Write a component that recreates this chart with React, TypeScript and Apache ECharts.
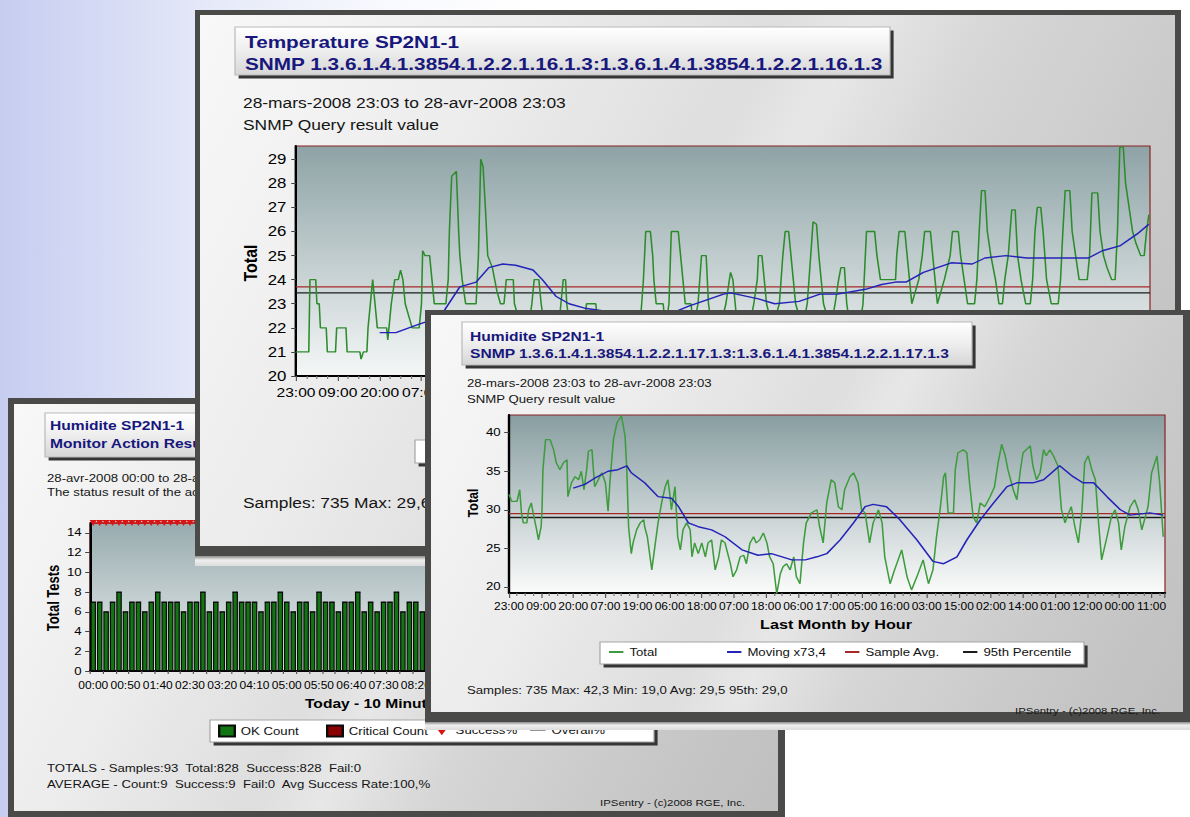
import React, { useEffect, useRef } from "react";
import * as echarts from "echarts";

const SX = 1.2;
const FONT = '"Liberation Sans", Arial, Helvetica, sans-serif';
const NAVY = "#17177c";

// ---------- shared hour ticks (one label every 36 hourly samples)
const hourTicks = ["23:00", "09:00", "20:00", "07:00", "19:00", "06:00", "18:00", "07:00", "18:00", "06:00", "17:00", "05:00", "16:00", "03:00", "15:00", "02:00", "14:00", "01:00", "12:00", "00:00", "11:00"];
const HOUR_STEP = 36;
const SAMPLE_COUNT = 735;
const lineLegend = ["Total", "Moving x73,4", "Sample Avg.", "95th Percentile"];

// ---------- Temperature SP2N1-1  [sample index, value]
const tempTotal = [
  [0, 21], [11, 21], [12, 24], [17, 24], [18, 23], [20, 23], [21, 22], [26, 22], [27, 21], [34, 21], [35, 22], [43, 22], [44, 21], [55, 21], [56, 20.7], [58, 21], [61, 21], [62, 22], [64, 23], [66, 24], [67, 23.5], [68, 23], [70, 22], [78, 22], [79, 21.5], [80, 22], [82, 23], [85, 24], [88, 24], [90, 24.4], [92, 24], [94, 23], [97, 22.5], [100, 22], [106, 22], [108, 23], [109, 25.2], [111, 25], [115, 25], [117, 24], [119, 23], [129, 23], [131, 24], [132, 26], [134, 28.3], [138, 28.5], [140, 26], [141, 25], [143, 24], [146, 23], [155, 23], [157, 25], [159, 29], [161, 28.7], [163, 27], [165, 25], [169, 24.5], [171, 24], [173, 23.5], [176, 23], [179, 23], [181, 24], [187, 24], [188, 23], [191, 22.5], [195, 22], [200, 22], [203, 23], [205, 24], [209, 24], [211, 23], [214, 22], [226, 22], [228, 23], [230, 24], [232, 24], [233, 23], [236, 22], [248, 22], [250, 23], [258, 23], [260, 22], [270, 21], [280, 21], [290, 22], [296, 22], [299, 24], [301, 26], [305, 26], [307, 25], [308, 24], [310, 23], [316, 23], [318, 22], [321, 23], [323, 26], [329, 26], [331, 25], [333, 24], [335, 23], [340, 23], [342, 22], [346, 23], [349, 25], [353, 25], [355, 23], [358, 22], [365, 22], [370, 23], [373, 24], [374, 24.3], [376, 24], [378, 23], [380, 22], [390, 22], [394, 23], [397, 24], [398, 25], [401, 25], [403, 24], [405, 23], [410, 22], [416, 23], [419, 25], [421, 26], [424, 26], [426, 25], [428, 24], [430, 23], [436, 22], [440, 23], [443, 25], [445, 26.4], [448, 26.3], [450, 25], [452, 24], [454, 23], [460, 22], [464, 23], [467, 24], [469, 24.5], [472, 24.5], [474, 23], [477, 22], [485, 22], [488, 23], [491, 26], [498, 26], [500, 25], [503, 24], [516, 24], [517, 25], [519, 26], [524, 26], [526, 25], [528, 24], [530, 23], [536, 24], [539, 25], [541, 26], [546, 26], [548, 25], [550, 24], [552, 23], [558, 24], [563, 25], [565, 26], [570, 26], [572, 25], [575, 24], [578, 23], [584, 23], [586, 24], [588, 26], [590, 27.7], [593, 27.7], [595, 26], [598, 25], [602, 24], [605, 23], [608, 23], [610, 24], [613, 25], [616, 26.9], [619, 26.9], [621, 25], [624, 24], [628, 23], [632, 23], [634, 24], [636, 26], [638, 27], [641, 27], [643, 26], [646, 24], [650, 23], [656, 23], [658, 24], [660, 26], [662, 27.7], [666, 27.7], [668, 26], [671, 25], [674, 24], [681, 24], [683, 25], [685, 27.6], [690, 27.6], [692, 26], [695, 25], [698, 24.5], [702, 24], [705, 24], [707, 26], [709, 29.5], [712, 29.5], [714, 28], [717, 27], [720, 26], [723, 25.5], [727, 25], [730, 25], [732, 26], [734, 26.7],
];
const tempMoving = [
  [72, 21.8], [86, 21.8], [103, 22.1], [115, 22.3], [126, 22.6], [141, 23.7], [155, 23.9], [166, 24.5], [178, 24.65], [189, 24.6], [204, 24.4], [212, 24.0], [224, 23.3], [235, 23.0], [250, 22.8], [280, 22.6], [300, 22.5], [323, 22.6], [338, 22.9], [368, 23.4], [374, 23.45], [398, 23.2], [412, 23.0], [433, 23.1], [451, 23.4], [466, 23.4], [490, 23.6], [504, 23.8], [516, 23.9], [525, 23.9], [540, 24.3], [564, 24.7], [582, 24.65], [593, 24.9], [611, 25.0], [629, 24.9], [650, 24.9], [682, 24.9], [694, 25.2], [709, 25.4], [724, 25.9], [734, 26.3],
];
const tempAvg = 23.7;
const tempP95 = 23.45;
const tempTicks = [20, 21, 22, 23, 24, 25, 26, 27, 28, 29];
const tempVisibleHourTicks = hourTicks.slice(0, 4); // the rest is hidden behind the front window

// ---------- Humidite SP2N1-1  [sample index, value]
const humTotal = [
  [0, 32], [3, 31.1], [9, 31.1], [12, 32.6], [14, 29.6], [16, 28.3], [20, 28.3], [22, 30], [25, 30.9], [27, 29.6], [31, 27.4], [33, 26.1], [36, 27.8], [37, 30], [38, 35.2], [41, 39.1], [46, 39.1], [50, 37.8], [53, 36.1], [57, 35.2], [61, 36.1], [65, 36.5], [66, 31.7], [70, 33.5], [74, 34.3], [78, 33.9], [81, 35], [84, 32.6], [87, 35.2], [89, 37.6], [93, 37.8], [94, 36.1], [96, 33], [100, 33.9], [104, 34.8], [108, 33.5], [111, 29.8], [113, 33.5], [117, 39.1], [121, 41.3], [126, 42.2], [130, 39.6], [132, 35.2], [134, 27.8], [137, 24.3], [139, 25.7], [143, 27.4], [147, 28.3], [151, 28.7], [152, 27.8], [155, 26.5], [160, 22.2], [164, 25.7], [167, 28.3], [171, 30.9], [175, 33], [178, 33.9], [180, 32.2], [182, 30], [186, 33], [189, 26.5], [192, 24.8], [195, 27.4], [199, 28.3], [203, 27.4], [205, 23.9], [208, 25.7], [212, 24.3], [216, 25.7], [220, 23.9], [223, 25.7], [227, 26.1], [231, 22.2], [235, 23.9], [238, 26.1], [242, 25.7], [248, 23], [251, 21.3], [255, 22.2], [259, 23.9], [263, 24.1], [266, 23], [270, 25.7], [274, 26.5], [277, 25.7], [281, 26.1], [285, 27], [289, 25.7], [292, 23.9], [296, 23], [300, 19.1], [304, 21.7], [307, 22.6], [311, 23], [315, 22.2], [319, 23.9], [322, 21.3], [326, 20.4], [330, 25.7], [333, 28.3], [339, 29.6], [345, 30], [348, 27.8], [352, 25.7], [356, 30.9], [361, 33.9], [365, 33.5], [369, 30.4], [373, 30], [376, 32.6], [382, 34.3], [386, 34.8], [391, 33.5], [395, 30], [399, 29.6], [404, 25.7], [408, 28.3], [414, 30], [418, 28.3], [421, 23.9], [427, 20.4], [432, 22.2], [440, 24.8], [446, 21.3], [451, 19.6], [457, 21.3], [464, 23.5], [470, 20.4], [475, 22.2], [479, 26.5], [483, 30], [487, 34.3], [489, 34.8], [492, 29.6], [498, 29.6], [500, 35.2], [503, 37.4], [509, 37.8], [513, 37.4], [516, 33.5], [520, 29.1], [524, 28.3], [528, 30.9], [533, 30.4], [539, 31.7], [544, 33], [548, 36.1], [552, 38.5], [556, 37], [559, 35.2], [565, 32.6], [569, 31.3], [573, 35.2], [576, 37.4], [584, 38.3], [587, 35.7], [591, 33.9], [595, 34.8], [599, 37.8], [602, 37], [606, 37.8], [610, 37], [615, 35.7], [619, 30], [623, 28.3], [627, 29.6], [630, 30.4], [634, 27.8], [638, 25.7], [642, 30], [645, 36.1], [649, 37], [653, 35.2], [657, 33.9], [660, 29.1], [664, 23.5], [670, 26.5], [675, 29.1], [679, 30], [683, 28.3], [686, 24.8], [690, 27.8], [696, 30.4], [701, 31.3], [705, 30], [709, 27.4], [713, 29.1], [716, 30.4], [720, 34.8], [726, 37], [729, 33.5], [733, 26.5],
];
const humMoving = [
  [72, 32.8], [85, 33.3], [96, 34.1], [111, 35], [122, 35.2], [132, 35.7], [137, 34.8], [152, 33.5], [167, 31.7], [182, 31.5], [190, 30.4], [201, 28.3], [212, 27.8], [227, 27.4], [242, 26.5], [261, 24.8], [279, 24.1], [294, 24.3], [317, 23.5], [332, 23.5], [345, 23.9], [356, 24.3], [371, 26.1], [386, 28.3], [399, 30.4], [408, 30.7], [423, 30.4], [438, 28.7], [457, 26.1], [475, 23.3], [487, 23], [502, 23.9], [513, 26.1], [528, 28.7], [543, 30.9], [558, 33], [569, 33.5], [587, 33.5], [599, 33.9], [617, 35.7], [632, 34.3], [643, 33.5], [655, 33.5], [670, 31.7], [685, 30], [696, 29.3], [718, 29.6], [733, 29.3],
];
const humAvg = 29.5;
const humP95 = 29.0;
const humTicks = [20, 25, 30, 35, 40];

// ---------- Monitor action results (10 minute intervals)
const barTickLabels = ["00:00", "00:50", "01:40", "02:30", "03:20", "04:10", "05:00", "05:50", "06:40", "07:30", "08:20"]; // later labels hidden behind the front window
const okCounts = [
  7, 7, 6, 7, 8, 6, 7, 7, 6, 7, 8, 7, 7, 7, 6, 7, 7, 8, 6, 7, 6, 7, 8, 7, 7, 7, 6, 7, 7, 8, 7, 6, 7, 7, 6, 8, 7, 7, 6, 7, 7, 8, 6, 7, 6, 7, 7, 8, 6, 7, 7, 6,
  7, 7, 8, 6, 7, 7, 6, 7, 8, 7, 7, 6, 7, 7, 8, 6, 7, 7, 7, 6, 8, 7, 7, 6, 7, 7, 8, 6, 7, 7, 6, 7, 8, 7, 6, 7, 7, 8, 6, 7, 7,
];
const criticalCounts = [
  0, 0, 0, 0, 0, 0, 0, 0, 0, 0, 0, 0, 0, 0, 0, 0, 0, 0, 0, 0, 0, 0, 0, 0, 0, 0, 0, 0, 0, 0, 0, 0, 0, 0, 0, 0, 0, 0, 0, 0, 0, 0, 0, 0, 0, 0, 0, 0, 0, 0,
  0, 0, 0, 0, 0, 0, 0, 0, 0, 0, 0, 0, 0, 0, 0, 0, 0, 0, 0, 0, 0, 0, 0, 0, 0, 0, 0, 0, 0, 0, 0, 0, 0, 0, 0, 0, 0, 0, 0, 0, 0, 0, 0,
];
const successPct = [
  100, 100, 100, 100, 100, 100, 100, 100, 100, 100, 100, 100, 100, 100, 100, 100, 100, 100, 100, 100, 100, 100, 100, 100, 100, 100, 100, 100, 100, 100, 100,
  100, 100, 100, 100, 100, 100, 100, 100, 100, 100, 100, 100, 100, 100, 100, 100, 100, 100, 100, 100, 100, 100, 100, 100, 100, 100, 100, 100, 100, 100, 100,
  100, 100, 100, 100, 100, 100, 100, 100, 100, 100, 100, 100, 100, 100, 100, 100, 100, 100, 100, 100, 100, 100, 100, 100, 100, 100, 100, 100, 100, 100, 100,
];
const overallPct = successPct;
const barTicks = [0, 2, 4, 6, 8, 10, 12, 14];

// ---------- panel geometry (page pixels)
const T = { left: 195, top: 10, width: 986, height: 556, frameH: 546 };
const H = { left: 425, top: 310, width: 765, height: 420, frameH: 412 };
const B = { left: 8, top: 398, width: 777, height: 419, frameH: 419 };

const lx = (box: any, x: number) => (x - box.left) / SX;
const ly = (box: any, y: number) => y - box.top;

const vGrad = (a: string, b: string) => ({
  type: "linear", x: 0, y: 0, x2: 0, y2: 1,
  colorStops: [{ offset: 0, color: a }, { offset: 1, color: b }],
});

function txt(x: number, y: number, text: string, o: any = {}) {
  const align = o.align || "left";
  return {
    type: "text", x, y, z: o.z ?? 20, rotation: o.rotation ?? 0,
    style: {
      text, fill: o.color || "#151515", fontSize: o.size || 11,
      fontWeight: o.bold ? "bold" : "normal", fontFamily: FONT,
      align, verticalAlign: "middle", textAlign: align, textVerticalAlign: "middle",
    },
  };
}

function shadowBox(x: number, y: number, w: number, h: number, fill: any, stroke: string, z = 10) {
  return [
    { type: "rect", z, shape: { x: x + 3, y: y + 3.5, width: w, height: h }, style: { fill: "#353535" } },
    { type: "rect", z: z + 1, shape: { x, y, width: w, height: h }, style: { fill, stroke, lineWidth: 1 } },
  ];
}

function titleBox(x: number, y: number, w: number, h: number, lines: string[], size: number, tx: number, ys: number[]) {
  const fill = new echarts.graphic.LinearGradient(0, 0, 0, 1, [
    { offset: 0, color: "#ffffff" }, { offset: 0.5, color: "#eeeeee" }, { offset: 1, color: "#d6d6d6" },
  ]);
  return [
    ...shadowBox(x, y, w, h, fill, "#b9b9b9"),
    ...lines.map((t, i) => txt(tx, ys[i], t, { size, bold: true, color: NAVY })),
  ];
}

function hourAxis(ticks: string[], fontSize: number, margin: number) {
  return {
    type: "value", min: 0, max: SAMPLE_COUNT, interval: HOUR_STEP,
    axisLine: { show: true, onZero: false, lineStyle: { color: "#000", width: 2 } },
    axisTick: { show: true, length: 5, lineStyle: { color: "#555" } },
    minorTick: { show: true, splitNumber: 4, length: 3, lineStyle: { color: "#777" } },
    splitLine: { show: false }, minorSplitLine: { show: false },
    axisLabel: {
      showMaxLabel: false, fontSize, margin, color: "#000", fontFamily: FONT,
      formatter: (v: number) => {
        const k = v / HOUR_STEP;
        return Number.isInteger(k) && k < ticks.length ? ticks[k] : "";
      },
    },
  };
}

function lineSeries(total: any, moving: any, avg: number, p95: number, green: string) {
  return [
    { name: "Sample Avg.", type: "line", data: [[0, avg], [SAMPLE_COUNT, avg]], symbol: "none", lineStyle: { color: "#a82828", width: 1.3 }, itemStyle: { color: "#a82828" }, z: 2 },
    { name: "95th Percentile", type: "line", data: [[0, p95], [SAMPLE_COUNT, p95]], symbol: "none", lineStyle: { color: "#1c1c1c", width: 1.3 }, itemStyle: { color: "#1c1c1c" }, z: 2 },
    { name: "Total", type: "line", data: total, symbol: "none", lineStyle: { color: green, width: 1.3 }, itemStyle: { color: green }, z: 3 },
    { name: "Moving x73,4", type: "line", data: moving, symbol: "none", lineStyle: { color: "#2424b8", width: 1.4 }, itemStyle: { color: "#2424b8" }, z: 4 },
  ];
}

// one legend component per item so the columns sit where the reference puts them
function legends(items: any[], lefts: number[], top: number, size: number, iw: number, ih: number) {
  return items.map((it, i) => ({
    left: lefts[i], top, orient: "horizontal", padding: 0, itemWidth: iw, itemHeight: ih,
    icon: it.icon || "rect", symbolKeepAspect: true,
    textStyle: { fontSize: size, color: "#111", fontFamily: FONT },
    data: [it.icon ? { name: it.name, icon: it.icon } : { name: it.name }],
  }));
}

function tempOption() {
  return {
    animation: false,
    textStyle: { fontFamily: FONT },
    grid: { left: lx(T, 296), top: ly(T, 146), width: (1150 - 296) / SX, height: 376 - 146, show: true, borderColor: "#8a2222", borderWidth: 1, backgroundColor: vGrad("#8ea3a6", "#f5f7f7") },
    xAxis: hourAxis(tempVisibleHourTicks, 13, 10),
    yAxis: {
      type: "value", min: 20, max: 29.55,
      axisLine: { show: true, onZero: false, lineStyle: { color: "#000", width: 2 } },
      axisTick: { show: true, customValues: tempTicks, length: 4, lineStyle: { color: "#444" } },
      axisLabel: { customValues: tempTicks, fontSize: 14, color: "#000", margin: 8, fontFamily: FONT },
      splitLine: { show: false },
    },
    series: lineSeries(tempTotal, tempMoving, tempAvg, tempP95, "#2c8c2c"),
    graphic: [
      ...titleBox(lx(T, 235), ly(T, 27), (890 - 235) / SX, 48, ["Temperature SP2N1-1", "SNMP 1.3.6.1.4.1.3854.1.2.2.1.16.1.3:1.3.6.1.4.1.3854.1.2.2.1.16.1.3"], 17.3, lx(T, 245), [ly(T, 42), ly(T, 64)]),
      txt(lx(T, 243), ly(T, 103), "28-mars-2008 23:03 to 28-avr-2008 23:03", { size: 14.5 }),
      txt(lx(T, 243), ly(T, 125), "SNMP Query result value", { size: 14.5 }),
      txt(lx(T, 250), ly(T, 263), "Total", { size: 16, bold: true, align: "center", rotation: Math.PI / 2, color: "#000" }),
      ...shadowBox(lx(T, 415), ly(T, 440), (1030 - 415) / SX, 23, "#ffffff", "#a5a5a5"),
      txt(lx(T, 243), ly(T, 503), "Samples: 735 Max: 29,6", { size: 14.5 }),
    ],
  };
}

function humOption() {
  return {
    animation: false,
    textStyle: { fontFamily: FONT },
    grid: { left: lx(H, 509), top: ly(H, 415), width: (1165 - 509) / SX, height: 593 - 415, show: true, borderColor: "#8a2222", borderWidth: 1, backgroundColor: vGrad("#889ea1", "#fbfbfb") },
    xAxis: hourAxis(hourTicks, 10, 8),
    yAxis: {
      type: "value", min: 19.2, max: 42.3,
      axisLine: { show: true, onZero: false, lineStyle: { color: "#000", width: 2 } },
      axisTick: { show: true, customValues: humTicks, length: 4, lineStyle: { color: "#444" } },
      axisLabel: { customValues: humTicks, fontSize: 11, color: "#000", margin: 7, fontFamily: FONT },
      splitLine: { show: false },
    },
    legend: legends(lineLegend.map((name) => ({ name })), [609, 727, 845, 963].map((x) => lx(H, x)), ly(H, 653) - 6.5, 11, 12, 2),
    series: lineSeries(humTotal, humMoving, humAvg, humP95, "#3e9c3e"),
    graphic: [
      ...titleBox(lx(H, 462), ly(H, 322), (972 - 462) / SX, 43, ["Humidite SP2N1-1", "SNMP 1.3.6.1.4.1.3854.1.2.2.1.17.1.3:1.3.6.1.4.1.3854.1.2.2.1.17.1.3"], 13, lx(H, 470), [ly(H, 336), ly(H, 353)]),
      txt(lx(H, 467), ly(H, 383), "28-mars-2008 23:03 to 28-avr-2008 23:03", { size: 11 }),
      txt(lx(H, 467), ly(H, 399), "SNMP Query result value", { size: 11 }),
      txt(lx(H, 473), ly(H, 503), "Total", { size: 12.5, bold: true, align: "center", rotation: Math.PI / 2, color: "#000" }),
      txt(lx(H, 836), ly(H, 624), "Last Month by Hour", { size: 13.5, bold: true, align: "center", color: "#000" }),
      ...shadowBox(lx(H, 600), ly(H, 642), (1084 - 600) / SX, 22, "#ffffff", "#a5a5a5", 1),
      txt(lx(H, 467), ly(H, 690), "Samples: 735 Max: 42,3 Min: 19,0 Avg: 29,5 95th: 29,0", { size: 11 }),
      txt(lx(H, 1160), ly(H, 711), "IPSentry - (c)2008 RGE, Inc.", { size: 9.5, align: "right" }),
    ],
  };
}

function barOption() {
  return {
    animation: false,
    textStyle: { fontFamily: FONT },
    grid: { left: lx(B, 90), top: ly(B, 523), width: (690 - 90) / SX, height: 671 - 523, show: true, borderColor: "#8a2222", borderWidth: 1, backgroundColor: vGrad("#97abae", "#eef1f1") },
    xAxis: {
      type: "category", data: okCounts.map((_, i) => String(i)),
      axisLine: { show: true, onZero: false, lineStyle: { color: "#000", width: 2 } },
      axisTick: { show: true, interval: 1, length: 3, lineStyle: { color: "#555" } },
      axisLabel: {
        interval: 4, fontSize: 10, margin: 9, color: "#000", fontFamily: FONT,
        formatter: (_v: string, i: number) => (i % 5 === 0 && barTickLabels[i / 5]) || "",
      },
    },
    yAxis: [
      {
        type: "value", min: 0, max: 15,
        axisLine: { show: true, onZero: false, lineStyle: { color: "#000", width: 2 } },
        axisTick: { show: true, customValues: barTicks, length: 4, lineStyle: { color: "#444" } },
        axisLabel: { customValues: barTicks, fontSize: 11, color: "#000", margin: 7, fontFamily: FONT },
        splitLine: { show: false },
      },
      { type: "value", min: 0, max: 100, show: false, splitLine: { show: false } },
    ],
    legend: legends(
      [
        { name: "OK Count", icon: "rect" },
        { name: "Critical Count", icon: "rect" },
        { name: "Success%", icon: "path://M0,0 L10,0 L5,8 Z" },
        { name: "Overall%", icon: "path://M0,0 L20,0 L20,1.6 L0,1.6 Z" },
      ],
      [218, 326, 434, 530].map((x) => lx(B, x)), ly(B, 731) - 6.5, 11, 13, 11,
    ),
    series: [
      { name: "OK Count", type: "bar", stack: "c", data: okCounts, barCategoryGap: "14%", itemStyle: { color: "#117511", borderColor: "#0b0b0b", borderWidth: 1 } },
      { name: "Critical Count", type: "bar", stack: "c", data: criticalCounts, itemStyle: { color: "#8b0000", borderColor: "#0b0b0b", borderWidth: 1 } },
      { name: "Overall%", type: "line", yAxisIndex: 1, data: overallPct, symbol: "none", lineStyle: { color: "#333", width: 1 }, itemStyle: { color: "#333" }, z: 3 },
      { name: "Success%", type: "line", yAxisIndex: 1, data: successPct, symbol: "triangle", symbolRotate: 180, symbolSize: 6, showSymbol: true, showAllSymbol: true, lineStyle: { color: "#d81414", width: 1.5 }, itemStyle: { color: "#d81414" }, z: 4 },
    ],
    graphic: [
      ...titleBox(lx(B, 45), ly(B, 413), (560 - 45) / SX, 44, ["Humidite SP2N1-1", "Monitor Action Results"], 13, lx(B, 50), [ly(B, 425), ly(B, 443)]),
      txt(lx(B, 47), ly(B, 478), "28-avr-2008 00:00 to 28-avr-2008 15:30", { size: 11 }),
      txt(lx(B, 47), ly(B, 492), "The status result of the action over the period", { size: 11 }),
      txt(lx(B, 54), ly(B, 598), "Total Tests", { size: 13, bold: true, align: "center", rotation: Math.PI / 2, color: "#000" }),
      txt(lx(B, 305), ly(B, 703), "Today - 10 Minute Intervals", { size: 13, bold: true, color: "#000" }),
      ...shadowBox(lx(B, 210), ly(B, 720), (654 - 210) / SX, 22, "#ffffff", "#a5a5a5", 1),
      txt(lx(B, 47), ly(B, 768), "TOTALS - Samples:93  Total:828  Success:828  Fail:0", { size: 11 }),
      txt(lx(B, 47), ly(B, 784), "AVERAGE - Count:9  Success:9  Fail:0  Avg Success Rate:100,%", { size: 11 }),
      txt(lx(B, 745), ly(B, 803), "IPSentry - (c)2008 RGE, Inc.", { size: 9.5, align: "right" }),
    ],
  };
}

const PANEL_BG = "linear-gradient(118deg, #f8f8f8 0%, #ececec 26%, #dedede 46%, #e7e7e7 53%, #d6d6d6 64%, #c9c9c9 82%, #bfbfbf 100%)";
const STRIP_BG = "linear-gradient(180deg, #8c8c8c 0%, #efefef 40%, #dcdcdc 100%)";

function Panel(props: any) {
  const { box, z, inset, chartRef } = props;
  return (
    <div style={{ position: "absolute", left: box.left, top: box.top, width: box.width, height: box.height, zIndex: z }}>
      <div style={{ position: "absolute", left: 0, top: 0, width: box.width, height: box.frameH, background: "#4a4a48" }} />
      <div style={{ position: "absolute", left: inset[3], top: inset[0], width: box.width - inset[1] - inset[3], height: box.frameH - inset[0] - inset[2], background: PANEL_BG }} />
      {box.height > box.frameH ? (
        <div style={{ position: "absolute", left: 0, top: box.frameH, width: box.width, height: box.height - box.frameH, background: STRIP_BG }} />
      ) : null}
      <div ref={chartRef} style={{ position: "absolute", left: 0, top: 0, width: box.width / SX, height: box.height, transform: `scaleX(${SX})`, transformOrigin: "0 0" }} />
    </div>
  );
}

export default function App() {
  const tRef = useRef<HTMLDivElement>(null);
  const hRef = useRef<HTMLDivElement>(null);
  const bRef = useRef<HTMLDivElement>(null);

  useEffect(() => {
    const charts: any[] = [];
    const make = (el: HTMLDivElement | null, opt: any) => {
      if (!el) return;
      const c = echarts.init(el, null, { renderer: "svg" });
      c.setOption(opt);
      charts.push(c);
    };
    make(bRef.current, barOption());
    make(tRef.current, tempOption());
    make(hRef.current, humOption());
    return () => charts.forEach((c) => c.dispose());
  }, []);

  return (
    <div
      style={{
        position: "fixed", left: 0, top: 0, width: 1190, height: 817, overflow: "hidden",
        background: "linear-gradient(90deg, #c6cdf0 0%, #d8ddf5 10%, #e9ecf9 20%, #f8f9fe 32%, #ffffff 45%)",
      }}
    >
      <Panel box={B} z={1} inset={[6, 7, 6, 6]} chartRef={bRef} />
      <Panel box={T} z={2} inset={[5, 6, 10, 5]} chartRef={tRef} />
      <Panel box={H} z={3} inset={[5, 7, 10, 6]} chartRef={hRef} />
    </div>
  );
}
